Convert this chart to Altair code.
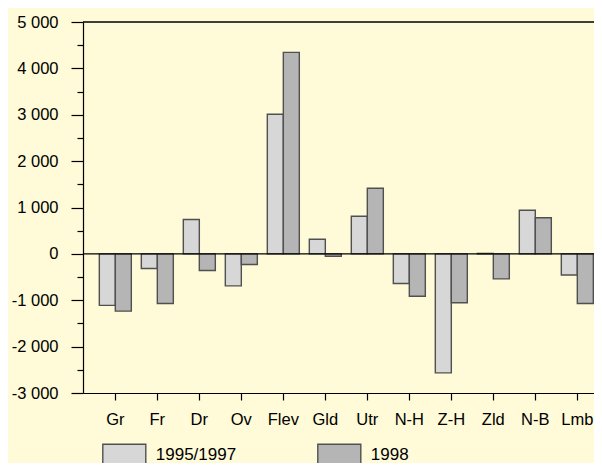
import altair as alt
import pandas as pd

regions = ["Gr", "Fr", "Dr", "Ov", "Flev", "Gld", "Utr", "N-H", "Z-H", "Zld", "N-B", "Lmb"]
series_names = ["1995/1997", "1998"]
v_1995_1997 = [-1110, -315, 740, -690, 3010, 315, 810, -640, -2565, 10, 940, -455]
v_1998 = [-1235, -1070, -360, -230, 4345, -50, 1415, -915, -1055, -540, 780, -1070]
major_ticks = list(range(-3000, 5001, 1000))
minor_ticks = list(range(-2500, 5000, 1000))
fills = ["#D7D7D7", "#B5B5B5"]

rows = []
for r, a, b in zip(regions, v_1995_1997, v_1998):
    rows.append({"region": r, "series": series_names[0], "value": a})
    rows.append({"region": r, "series": series_names[1], "value": b})
df = pd.DataFrame(rows)

FONT = "Liberation Sans"
yscale = alt.Scale(domain=[-3000, 5000], nice=False, zero=False)

bars = alt.Chart(df).mark_bar(stroke="#505050", strokeWidth=1.4).encode(
    x=alt.X("region:N", sort=regions,
            scale=alt.Scale(paddingInner=0.238, paddingOuter=0.2024, align=0.96),
            axis=alt.Axis(title=None, labelAngle=0, tickSize=7, labelPadding=11,
                          domainColor="black", tickColor="black", labelColor="black",
                          labelFontSize=16.5, labelFont=FONT, grid=False)),
    xOffset=alt.XOffset("series:N", sort=series_names,
                        scale=alt.Scale(paddingInner=0, paddingOuter=0)),
    y=alt.Y("value:Q", scale=yscale,
            axis=alt.Axis(values=major_ticks, tickSize=12, labelPadding=13, title=None,
                          grid=False, domainColor="black", tickColor="black",
                          labelColor="black", labelFontSize=16.5, labelFont=FONT,
                          labelExpr="(datum.value < 0 ? '-' : '') + replace(format(abs(datum.value), ','), ',', ' ')")),
    color=alt.Color("series:N", sort=series_names,
                    scale=alt.Scale(domain=series_names, range=fills),
                    legend=alt.Legend(orient="none", legendX=18.8, legendY=410, title=None,
                                      direction="horizontal", columns=2,
                                      symbolType="M-1,-0.5H1V0.5H-1Z", symbolSize=1849,
                                      symbolStrokeColor="#505050", symbolStrokeWidth=1.4,
                                      symbolOpacity=1, labelFontSize=17, labelFont=FONT,
                                      labelColor="black", labelOffset=9, columnPadding=78)),
)

zero_df = pd.DataFrame({"value": [0]})
zero_line = alt.Chart(zero_df).mark_rule(color="black", strokeWidth=1.2).encode(
    y=alt.Y("value:Q", scale=yscale,
            axis=alt.Axis(orient="left", values=minor_ticks, tickSize=6, labels=False,
                          domain=False, title=None, grid=False, tickColor="black"))
)

top_df = pd.DataFrame({"value": [5000]})
top_line = alt.Chart(top_df).mark_rule(color="black", strokeWidth=1.5).encode(
    y=alt.Y("value:Q", scale=yscale, axis=None)
)

chart = alt.layer(bars, zero_line, top_line).resolve_axis(y="independent").properties(
    width=511, height=371, autosize="none",
    padding={"left": 75, "top": 14, "right": 0, "bottom": 70},
    background="#FFFAD7",
).configure_view(stroke=None).configure_axis(tickWidth=1.2, domainWidth=1.2)

chart.save("out.html", embed_options={"renderer": "svg", "actions": False})
